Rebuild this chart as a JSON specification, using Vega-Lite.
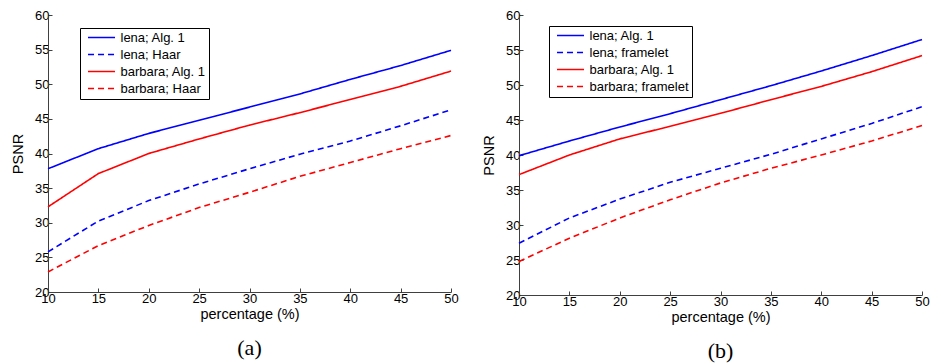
{
  "$schema": "https://vega.github.io/schema/vega-lite/v6.json",
  "background": "white",
  "padding": {"left": 10, "top": 9, "right": 0, "bottom": 4},
  "config": {
    "view": {"stroke": null},
    "font": "Liberation Sans",
    "axis": {
      "domainColor": "#404040",
      "tickColor": "#404040",
      "tickSize": -4,
      "grid": false,
      "labelFlush": false,
      "labelFont": "Liberation Sans",
      "labelFontSize": 13,
      "labelColor": "black",
      "titleFont": "Liberation Sans",
      "titleFontSize": 14.5,
      "titleFontWeight": "normal",
      "titleColor": "black",
      "labelPadding": 3
    },
    "axisX": {"labelPadding": 4},
    "legend": {
      "orient": "none",
      "strokeColor": "black",
      "fillColor": "white",
      "padding": 3,
      "symbolType": "M-0.33,0H5.67",
      "symbolSize": 81,
      "symbolStrokeWidth": 1.6,
      "labelFont": "Liberation Sans",
      "labelFontSize": 13,
      "labelColor": "black",
      "labelOffset": 24.5,
      "rowPadding": 3,
      "title": null
    },
    "title": {"font": "Liberation Serif", "fontSize": 22, "fontWeight": "normal", "color": "black", "orient": "bottom", "offset": 17}
  },
  "datasets": {
    "a": [
      {"series": "lena; Alg. 1", "p": 10, "psnr": 37.8},
      {"series": "lena; Alg. 1", "p": 15, "psnr": 40.7},
      {"series": "lena; Alg. 1", "p": 20, "psnr": 42.9},
      {"series": "lena; Alg. 1", "p": 25, "psnr": 44.8},
      {"series": "lena; Alg. 1", "p": 30, "psnr": 46.7},
      {"series": "lena; Alg. 1", "p": 35, "psnr": 48.6},
      {"series": "lena; Alg. 1", "p": 40, "psnr": 50.7},
      {"series": "lena; Alg. 1", "p": 45, "psnr": 52.7},
      {"series": "lena; Alg. 1", "p": 50, "psnr": 54.9},
      {"series": "lena; Haar", "p": 10, "psnr": 25.8},
      {"series": "lena; Haar", "p": 15, "psnr": 30.25},
      {"series": "lena; Haar", "p": 20, "psnr": 33.2},
      {"series": "lena; Haar", "p": 25, "psnr": 35.6},
      {"series": "lena; Haar", "p": 30, "psnr": 37.8},
      {"series": "lena; Haar", "p": 35, "psnr": 39.9},
      {"series": "lena; Haar", "p": 40, "psnr": 41.8},
      {"series": "lena; Haar", "p": 45, "psnr": 44.0},
      {"series": "lena; Haar", "p": 50, "psnr": 46.3},
      {"series": "barbara; Alg. 1", "p": 10, "psnr": 32.3},
      {"series": "barbara; Alg. 1", "p": 15, "psnr": 37.1},
      {"series": "barbara; Alg. 1", "p": 20, "psnr": 40.0},
      {"series": "barbara; Alg. 1", "p": 25, "psnr": 42.1},
      {"series": "barbara; Alg. 1", "p": 30, "psnr": 44.1},
      {"series": "barbara; Alg. 1", "p": 35, "psnr": 45.9},
      {"series": "barbara; Alg. 1", "p": 40, "psnr": 47.8},
      {"series": "barbara; Alg. 1", "p": 45, "psnr": 49.7},
      {"series": "barbara; Alg. 1", "p": 50, "psnr": 51.9},
      {"series": "barbara; Haar", "p": 10, "psnr": 22.9},
      {"series": "barbara; Haar", "p": 15, "psnr": 26.7},
      {"series": "barbara; Haar", "p": 20, "psnr": 29.6},
      {"series": "barbara; Haar", "p": 25, "psnr": 32.2},
      {"series": "barbara; Haar", "p": 30, "psnr": 34.4},
      {"series": "barbara; Haar", "p": 35, "psnr": 36.7},
      {"series": "barbara; Haar", "p": 40, "psnr": 38.7},
      {"series": "barbara; Haar", "p": 45, "psnr": 40.7},
      {"series": "barbara; Haar", "p": 50, "psnr": 42.6}
    ],
    "b": [
      {"series": "lena; Alg. 1", "p": 10, "psnr": 39.9},
      {"series": "lena; Alg. 1", "p": 15, "psnr": 42.0},
      {"series": "lena; Alg. 1", "p": 20, "psnr": 44.0},
      {"series": "lena; Alg. 1", "p": 25, "psnr": 45.9},
      {"series": "lena; Alg. 1", "p": 30, "psnr": 47.9},
      {"series": "lena; Alg. 1", "p": 35, "psnr": 49.9},
      {"series": "lena; Alg. 1", "p": 40, "psnr": 52.0},
      {"series": "lena; Alg. 1", "p": 45, "psnr": 54.2},
      {"series": "lena; Alg. 1", "p": 50, "psnr": 56.5},
      {"series": "lena; framelet", "p": 10, "psnr": 27.4},
      {"series": "lena; framelet", "p": 15, "psnr": 31.0},
      {"series": "lena; framelet", "p": 20, "psnr": 33.7},
      {"series": "lena; framelet", "p": 25, "psnr": 36.1},
      {"series": "lena; framelet", "p": 30, "psnr": 38.1},
      {"series": "lena; framelet", "p": 35, "psnr": 40.1},
      {"series": "lena; framelet", "p": 40, "psnr": 42.3},
      {"series": "lena; framelet", "p": 45, "psnr": 44.5},
      {"series": "lena; framelet", "p": 50, "psnr": 46.9},
      {"series": "barbara; Alg. 1", "p": 10, "psnr": 37.2},
      {"series": "barbara; Alg. 1", "p": 15, "psnr": 40.0},
      {"series": "barbara; Alg. 1", "p": 20, "psnr": 42.3},
      {"series": "barbara; Alg. 1", "p": 25, "psnr": 44.1},
      {"series": "barbara; Alg. 1", "p": 30, "psnr": 45.95},
      {"series": "barbara; Alg. 1", "p": 35, "psnr": 47.9},
      {"series": "barbara; Alg. 1", "p": 40, "psnr": 49.8},
      {"series": "barbara; Alg. 1", "p": 45, "psnr": 51.9},
      {"series": "barbara; Alg. 1", "p": 50, "psnr": 54.2},
      {"series": "barbara; framelet", "p": 10, "psnr": 24.8},
      {"series": "barbara; framelet", "p": 15, "psnr": 28.1},
      {"series": "barbara; framelet", "p": 20, "psnr": 31.0},
      {"series": "barbara; framelet", "p": 25, "psnr": 33.6},
      {"series": "barbara; framelet", "p": 30, "psnr": 36.0},
      {"series": "barbara; framelet", "p": 35, "psnr": 38.1},
      {"series": "barbara; framelet", "p": 40, "psnr": 40.0},
      {"series": "barbara; framelet", "p": 45, "psnr": 42.0},
      {"series": "barbara; framelet", "p": 50, "psnr": 44.2}
    ]
  },
  "hconcat": [
    {
      "title": "(a)",
      "width": 403,
      "height": 277,
      "data": {"name": "a"},
      "mark": {"type": "line", "strokeWidth": 1.6, "clip": false},
      "encoding": {
        "x": {"field": "p", "type": "quantitative", "title": "percentage (%)", "scale": {"domain": [10, 50], "nice": false, "zero": false}, "axis": {"values": [10, 15, 20, 25, 30, 35, 40, 45, 50], "titlePadding": 2}},
        "y": {"field": "psnr", "type": "quantitative", "title": "PSNR", "scale": {"domain": [20, 60], "nice": false, "zero": false}, "axis": {"values": [20, 25, 30, 35, 40, 45, 50, 55, 60], "titlePadding": 9}},
        "color": {"field": "series", "type": "nominal", "scale": {"domain": ["lena; Alg. 1", "lena; Haar", "barbara; Alg. 1", "barbara; Haar"], "range": ["#0000ff", "#0000ff", "#ff0000", "#ff0000"]}, "legend": {"legendX": 32, "legendY": 13}},
        "strokeDash": {"field": "series", "type": "nominal", "scale": {"domain": ["lena; Alg. 1", "lena; Haar", "barbara; Alg. 1", "barbara; Haar"], "range": [[1, 0], [6, 4], [1, 0], [6, 4]]}, "legend": {"legendX": 32, "legendY": 13}}
      }
    },
    {
      "title": "(b)",
      "width": 403,
      "height": 280,
      "data": {"name": "b"},
      "mark": {"type": "line", "strokeWidth": 1.6, "clip": false},
      "encoding": {
        "x": {"field": "p", "type": "quantitative", "title": "percentage (%)", "scale": {"domain": [10, 50], "nice": false, "zero": false}, "axis": {"values": [10, 15, 20, 25, 30, 35, 40, 45, 50], "titlePadding": 2}},
        "y": {"field": "psnr", "type": "quantitative", "title": "PSNR", "scale": {"domain": [20, 60], "nice": false, "zero": false}, "axis": {"values": [20, 25, 30, 35, 40, 45, 50, 55, 60], "titlePadding": 9}},
        "color": {"field": "series", "type": "nominal", "scale": {"domain": ["lena; Alg. 1", "lena; framelet", "barbara; Alg. 1", "barbara; framelet"], "range": ["#0000ff", "#0000ff", "#ff0000", "#ff0000"]}, "legend": {"legendX": 30, "legendY": 11}},
        "strokeDash": {"field": "series", "type": "nominal", "scale": {"domain": ["lena; Alg. 1", "lena; framelet", "barbara; Alg. 1", "barbara; framelet"], "range": [[1, 0], [6, 4], [1, 0], [6, 4]]}, "legend": {"legendX": 30, "legendY": 11}}
      }
    }
  ],
  "resolve": {"scale": {"color": "independent", "strokeDash": "independent"}, "legend": {"color": "independent", "strokeDash": "independent"}},
  "spacing": 22
}
